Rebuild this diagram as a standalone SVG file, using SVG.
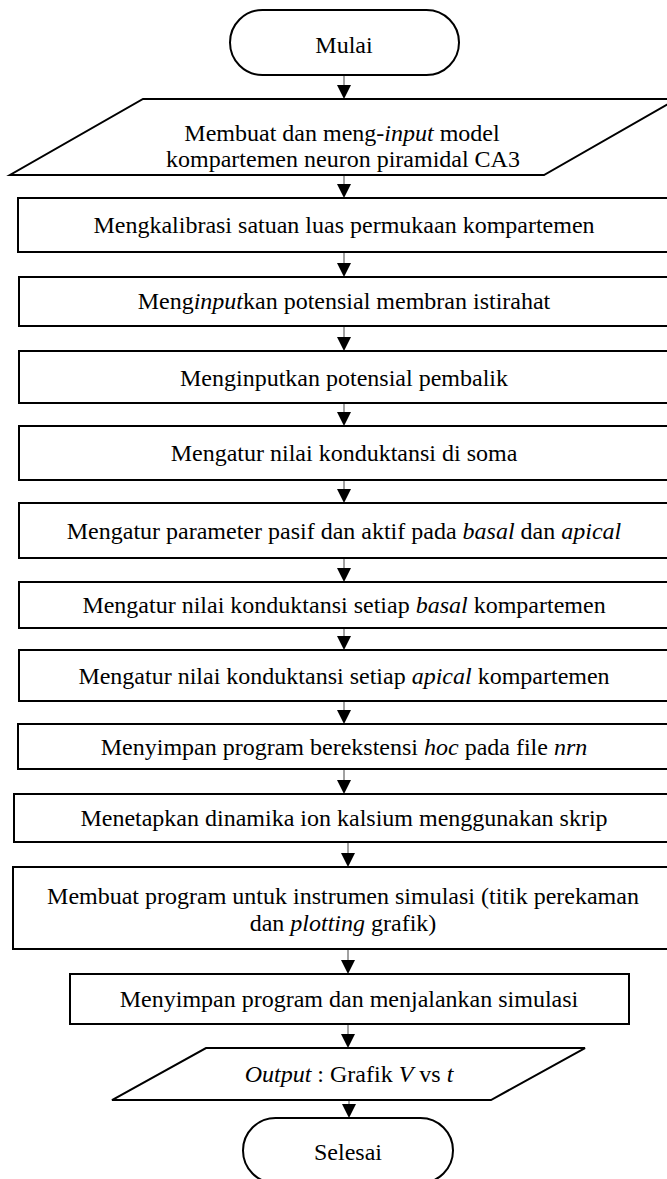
<svg xmlns="http://www.w3.org/2000/svg" width="667" height="1179" viewBox="0 0 667 1179">
<style>
.s{fill:#fff;stroke:#000;stroke-width:2}
.t{font-family:"Liberation Serif","Times New Roman",serif;font-size:24px;fill:#000;text-anchor:middle}
.i{font-style:italic}
.c{stroke:#444;stroke-width:1;fill:none}
.h{fill:#000}
</style>
<rect width="667" height="1179" fill="#fff"/>
<g id="connectors">
<line class="c" x1="344" y1="75" x2="344" y2="86"/><polygon class="h" points="337,85 351,85 344,99"/>
<line class="c" x1="344" y1="175" x2="344" y2="185"/><polygon class="h" points="337,184 351,184 344,198"/>
<line class="c" x1="344" y1="252" x2="344" y2="264"/><polygon class="h" points="337,263 351,263 344,277"/>
<line class="c" x1="344" y1="326" x2="344" y2="338"/><polygon class="h" points="337,337 351,337 344,351"/>
<line class="c" x1="344" y1="403" x2="344" y2="413"/><polygon class="h" points="337,412 351,412 344,426"/>
<line class="c" x1="344" y1="480" x2="344" y2="490"/><polygon class="h" points="337,489 351,489 344,503"/>
<line class="c" x1="344" y1="558" x2="344" y2="569"/><polygon class="h" points="337,568 351,568 344,582"/>
<line class="c" x1="344" y1="628" x2="344" y2="637"/><polygon class="h" points="337,636 351,636 344,650"/>
<line class="c" x1="344" y1="701" x2="344" y2="711"/><polygon class="h" points="337,710 351,710 344,724"/>
<line class="c" x1="344" y1="769" x2="344" y2="781"/><polygon class="h" points="337,780 351,780 344,794"/>
<line class="c" x1="348" y1="842" x2="348" y2="854"/><polygon class="h" points="341,853 355,853 348,867"/>
<line class="c" x1="348" y1="949" x2="348" y2="961"/><polygon class="h" points="341,960 355,960 348,974"/>
<line class="c" x1="348" y1="1024" x2="348" y2="1035"/><polygon class="h" points="341,1034 355,1034 348,1048"/>
<line class="c" x1="349" y1="1100" x2="349" y2="1105"/><polygon class="h" points="342,1104 356,1104 349,1118"/>
</g>
<g id="mulai"><rect class="s" x="230" y="10" width="229" height="65" rx="32.5"/><text class="t" x="344" y="53">Mulai</text></g>
<g id="input-model"><polygon class="s" points="143,99 677,99 544,175 10,175"/>
<text class="t" x="342" y="141">Membuat dan meng-<tspan class="i">input</tspan> model</text>
<text class="t" x="343" y="167">kompartemen neuron piramidal CA3</text></g>
<g id="kalibrasi"><rect class="s" x="18" y="198" width="652" height="54"/><text class="t" x="344" y="233">Mengkalibrasi satuan luas permukaan kompartemen</text></g>
<g id="istirahat"><rect class="s" x="19" y="277" width="651" height="49"/><text class="t" x="344" y="309">Meng<tspan class="i">input</tspan>kan potensial membran istirahat</text></g>
<g id="pembalik"><rect class="s" x="19" y="351" width="651" height="52"/><text class="t" x="344" y="386">Menginputkan potensial pembalik</text></g>
<g id="soma"><rect class="s" x="19" y="426" width="651" height="54"/><text class="t" x="344" y="461">Mengatur nilai konduktansi di soma</text></g>
<g id="pasif-aktif"><rect class="s" x="19" y="503" width="651" height="55"/><text class="t" x="344" y="539">Mengatur parameter pasif dan aktif pada <tspan class="i">basal</tspan> dan <tspan class="i">apical</tspan></text></g>
<g id="basal"><rect class="s" x="19" y="582" width="651" height="46"/><text class="t" x="344" y="613">Mengatur nilai konduktansi setiap <tspan class="i">basal</tspan> kompartemen</text></g>
<g id="apical"><rect class="s" x="19" y="650" width="651" height="51"/><text class="t" x="344" y="684">Mengatur nilai konduktansi setiap <tspan class="i">apical</tspan> kompartemen</text></g>
<g id="simpan-hoc"><rect class="s" x="18" y="724" width="652" height="45"/><text class="t" x="344" y="755">Menyimpan program berekstensi <tspan class="i">hoc</tspan> pada file <tspan class="i">nrn</tspan></text></g>
<g id="kalsium"><rect class="s" x="14" y="794" width="660" height="48"/><text class="t" x="344" y="826">Menetapkan dinamika ion kalsium menggunakan skrip</text></g>
<g id="instrumen"><rect class="s" x="13" y="867" width="662" height="82"/>
<text class="t" x="343" y="904">Membuat program untuk instrumen simulasi (titik perekaman</text>
<text class="t" x="343" y="931">dan <tspan class="i">plotting</tspan> grafik)</text></g>
<g id="jalankan"><rect class="s" x="70" y="974" width="559" height="50"/><text class="t" x="349" y="1007">Menyimpan program dan menjalankan simulasi</text></g>
<g id="output"><polygon class="s" points="206,1048 585,1048 491,1100 112,1100"/><text class="t" x="349" y="1082"><tspan class="i">Output</tspan> : Grafik <tspan class="i">V</tspan> vs <tspan class="i">t</tspan></text></g>
<g id="selesai"><rect class="s" x="243" y="1118" width="210" height="65" rx="32.5"/><text class="t" x="348" y="1160">Selesai</text></g>
</svg>
